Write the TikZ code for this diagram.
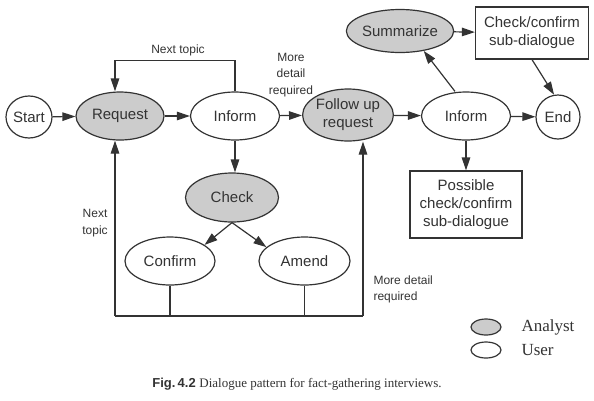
\documentclass[tikz,border=0pt]{standalone}
\usepackage{fontspec}
\setmainfont{Liberation Sans}
\newfontfamily\capfont{Liberation Serif}
\usetikzlibrary{shapes.geometric}
\usetikzlibrary{arrows.meta}
\definecolor{ink}{gray}{0.2}
\definecolor{shade}{gray}{0.8}

\begin{document}
\begin{tikzpicture}[x=1pt,y=-1pt,
  user/.style={ellipse,draw=ink,line width=1.2pt,fill=white,inner sep=0pt,text=ink,align=center,font=\fontsize{15}{18}\selectfont},
  analyst/.style={user,fill=shade},
  subbox/.style={rectangle,draw=ink,line width=1.2pt,fill=white,inner sep=0pt,text=ink,align=center,font=\fontsize{15}{18}\selectfont},
  lbl/.style={text=ink,align=center,font=\fontsize{12}{16.5}\selectfont},
  key/.style={minimum width=30pt,minimum height=16pt},
  keytext/.style={anchor=west,text=ink,font=\capfont\fontsize{17}{20}\selectfont},
  arr/.style={draw=ink,line width=1.2pt,-{Triangle[length=13pt,width=8.5pt]}},
  plain/.style={draw=ink,line width=1.2pt}
  ]

\useasboundingbox (0,0) rectangle (594,400);

% top row
\node[user,minimum width=46pt,minimum height=42pt] (start) at (29,117) {Start};
\node[analyst,minimum width=88pt,minimum height=48pt] (request) at (120,116) {Request};
\node[user,minimum width=89pt,minimum height=48pt] (inform1) at (235,116) {Inform};
\node[analyst,minimum width=90pt,minimum height=52pt] (followup) at (348,115) {Follow up\\request};
\node[user,minimum width=89pt,minimum height=48pt] (inform2) at (466,116) {Inform};
\node[user,minimum width=44pt,minimum height=44pt] (finish) at (558,117) {End};

\node[analyst,minimum width=90pt,minimum height=43pt] (summarize) at (400,31) {Summarize};
\node[subbox,minimum width=113pt,minimum height=52pt] (confirmbox) at (532,33) {Check/confirm\\sub-dialogue};
\node[subbox,minimum width=112pt,minimum height=67pt] (possible) at (466,204.5) {Possible\\check/confirm\\sub-dialogue};

% check branch
\node[analyst,minimum width=93pt,minimum height=49pt] (check) at (232,197.5) {Check};
\node[user,minimum width=90pt,minimum height=48pt] (confirm) at (170,261) {Confirm};
\node[user,minimum width=91pt,minimum height=48pt] (amend) at (304.5,261) {Amend};

\coordinate (bl) at (115,316);
\coordinate (br) at (363,316);

\draw[arr] (start) -- (request);
\draw[arr] (request) -- (inform1);
\draw[arr] (inform1) -- (followup);
\draw[arr] (followup) -- (inform2);
\draw[arr] (inform2) -- (finish);
\draw[arr] ([xshift=-11pt]inform2.north) -- (summarize.-40);
\draw[arr] (summarize) -- (confirmbox);
\draw[arr] (confirmbox.south) -- (finish.100);
\draw[arr] (inform2) -- (possible);

\draw[arr] (inform1.north) -- ++(0,-31) -| ([xshift=-5pt]request.north);
\draw[arr] (inform1.south) -- (inform1.south |- check.north);
\draw[arr] (check.south) -- (confirm.25);
\draw[arr] (check.south) -- (amend.160);

\draw[plain] (confirm.south) -- (confirm.south |- bl);
\draw[plain] (amend.south) -- (amend.south |- bl);
\draw[plain] (bl) -- (br);
\draw[arr] (bl) -- (bl |- request.south);
\draw[arr] (br) -- (br |- followup.south);

% labels
\node[lbl] (nexttop) at (178,50) {Next topic};
\node[lbl] (moretop) at (291,75) {More\\detail\\required};
\node[lbl] (nextleft) at (95,223) {Next\\topic};
\node[lbl,align=left,anchor=west] (morebot) at (370,289.5) {More detail\\required};

% legend
\node[analyst,key] (keyanalyst) at (486,327) {};
\node[user,key] (keyuser) at (486,350) {};
\node[keytext] (analysttext) at (518,327) {Analyst};
\node[keytext] (usertext) at (518,350) {User};

\node[text=ink,font=\fontsize{13}{16}\selectfont] (caption) at (297,384) {{\bfseries Fig.\,4.2} {\capfont Dialogue pattern for fact-gathering interviews.}};

\end{tikzpicture}
\end{document}
